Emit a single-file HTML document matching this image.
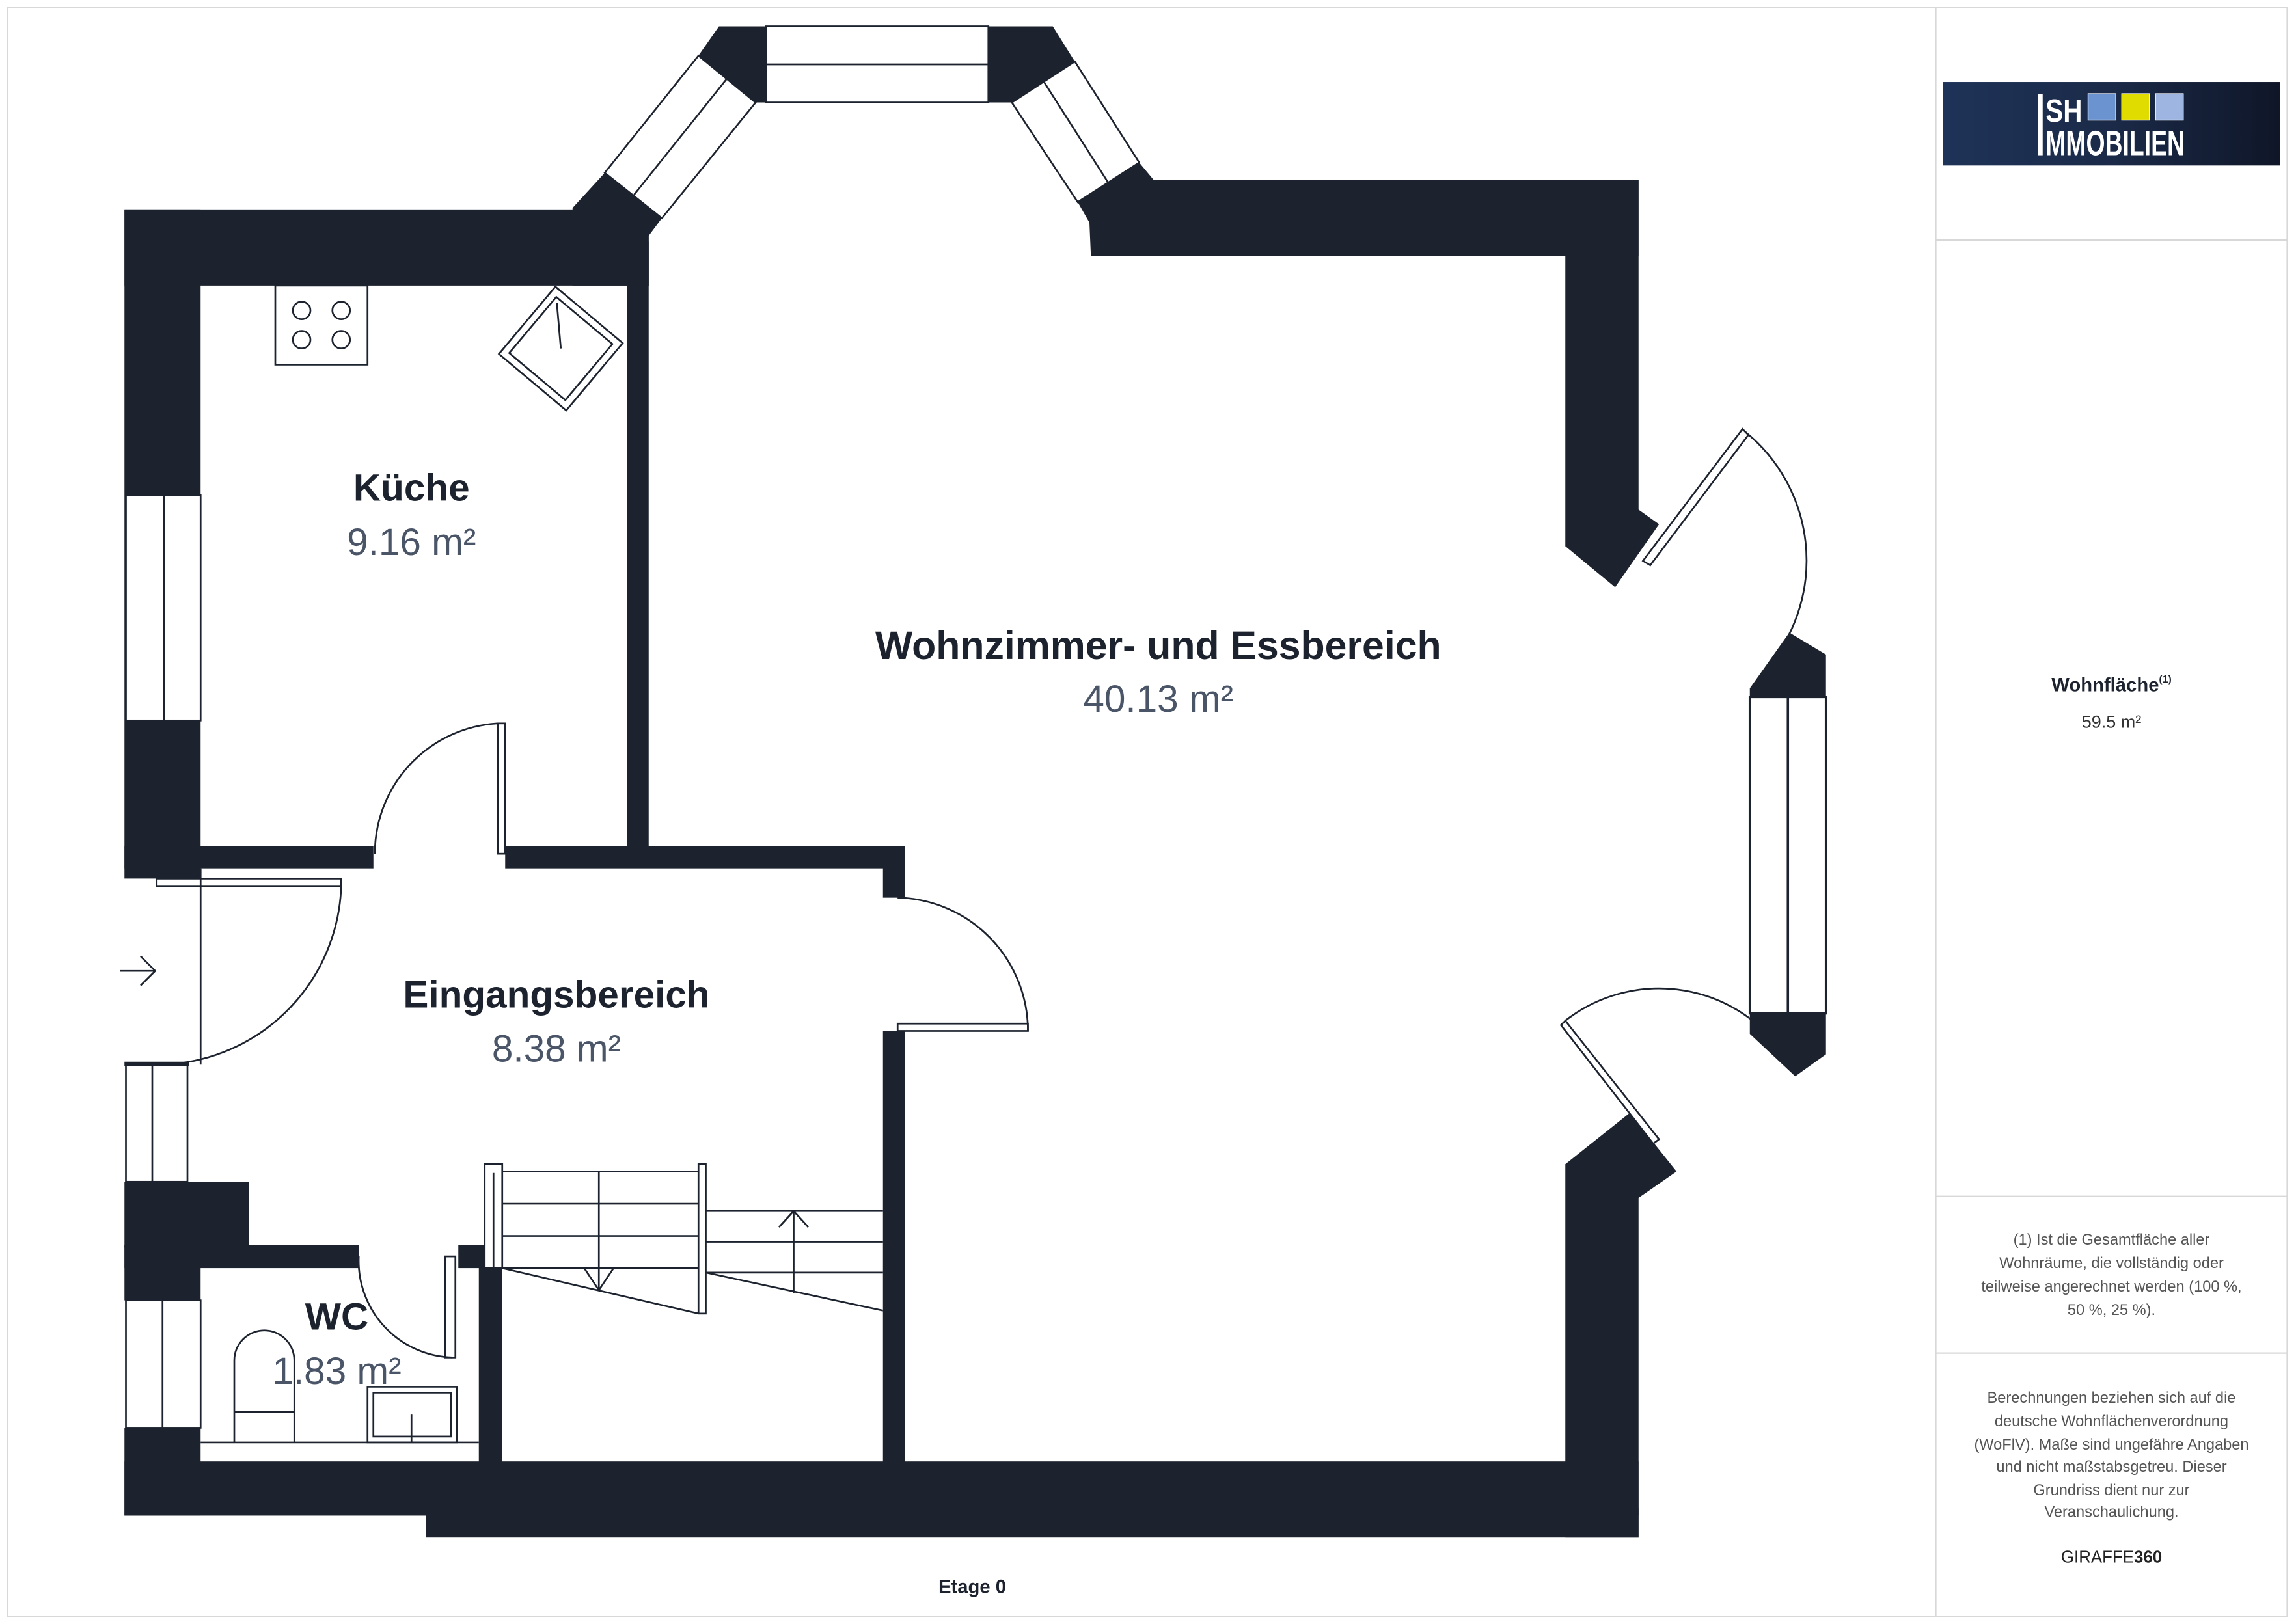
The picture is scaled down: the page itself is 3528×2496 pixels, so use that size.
<!DOCTYPE html>
<html><head><meta charset="utf-8"><style>
html,body{margin:0;padding:0;background:#fff}
svg{display:block}
text{font-family:"Liberation Sans",sans-serif}
</style></head><body>
<svg width="3528" height="2496" viewBox="0 0 1568 1109" preserveAspectRatio="none" xmlns="http://www.w3.org/2000/svg">
<defs><linearGradient id="lg" x1="0" x2="1" y1="0" y2="0"><stop offset="0" stop-color="#1e3358"/><stop offset="0.5" stop-color="#1b2a48"/><stop offset="1" stop-color="#0f1628"/></linearGradient></defs>
<rect x="5" y="5" width="1557" height="1099" fill="none" stroke="#d8d8d8" stroke-width="1"/>
<line x1="1322" y1="5" x2="1322" y2="1104" stroke="#d8d8d8"/>
<line x1="1322" y1="164" x2="1562" y2="164" stroke="#d8d8d8"/>
<line x1="1322" y1="817" x2="1562" y2="817" stroke="#d8d8d8"/>
<line x1="1322" y1="924" x2="1562" y2="924" stroke="#d8d8d8"/>

<g fill="#1c232e">
<polygon points="491,18 523,18 523,70 516,70 477,38"/>
<polygon points="675,18 719,18 734,42 691,70 675,70"/>
<polygon points="413,118 452,149 443,161 443,195 391,195 391,142"/>
<polygon points="778,111 788,123 788,175 745,175 744,152 736,138"/>
<rect x="85" y="143" width="358" height="52"/>
<rect x="85" y="143" width="52" height="457"/>
<rect x="428" y="165" width="15" height="413"/>
<rect x="745" y="123" width="374" height="52"/>
<polygon points="1069,123 1119,123 1119,348 1133,358 1103,401 1069,373"/>
<polygon points="1069,795 1113,760 1145,800 1119,818 1119,1050 1069,1050"/>
<polygon points="1195,470 1222,432 1247,447 1247,476 1195,476"/>
<polygon points="1195,692 1247,692 1247,720 1226,735 1195,706"/>
<rect x="85" y="578" width="170" height="15"/>
<rect x="345" y="578" width="273" height="15"/>
<rect x="603" y="578" width="15" height="35"/>
<rect x="603" y="704" width="15" height="300"/>
<rect x="85" y="807" width="85" height="45"/>
<rect x="85" y="850" width="160" height="16"/>
<rect x="85" y="850" width="52" height="38"/>
<rect x="313" y="850" width="30" height="16"/>
<rect x="327" y="850" width="16" height="152"/>
<rect x="85" y="975" width="52" height="60"/>
<rect x="85" y="998" width="1034" height="37"/>
<rect x="291" y="1030" width="828" height="20"/>
</g>

<g fill="#fff" stroke="#1c232e" stroke-width="1.2">
<rect x="86" y="338" width="51" height="154"/>
<line x1="112" y1="338" x2="112" y2="492"/>
<rect x="523" y="18" width="152" height="52"/>
<line x1="523" y1="44" x2="675" y2="44"/>
<polygon points="477,38 516,70 452,149 413,118"/>
<line x1="497" y1="53" x2="433" y2="133"/>
<polygon points="734,42 778,111 736,138 691,70"/>
<line x1="713" y1="56" x2="757" y2="125"/>
<rect x="1195" y="476" width="52" height="216" stroke-width="1.6"/>
<line x1="1221" y1="476" x2="1221" y2="692" stroke-width="1.6"/>
<rect x="86" y="727" width="42" height="80"/>
<line x1="104" y1="727" x2="104" y2="807"/>
<rect x="86" y="888" width="51" height="87"/>
<line x1="111" y1="888" x2="111" y2="975"/>
</g>
<rect x="85" y="725" width="44" height="3" fill="#1c232e"/>

<g fill="none" stroke="#1c232e" stroke-width="1.2">
<rect x="340" y="494" width="5" height="89" fill="#fff"/>
<path d="M340,494 A89,89 0 0 0 256,583"/>
<rect x="613" y="699" width="89" height="5" fill="#fff"/>
<path d="M613,613 A91,91 0 0 1 702,704"/>
<rect x="107" y="600" width="126" height="5" fill="#fff"/>
<line x1="137" y1="593" x2="137" y2="727"/>
<path d="M233,605 A126,126 0 0 1 107,727"/>
<rect x="304" y="858" width="7" height="69" fill="#fff"/>
<path d="M245,858 A66,66 0 0 0 309,927"/>
<polygon points="1122,383 1190,293 1194,297 1127,386" fill="#fff"/>
<path d="M1192,295 A113,113 0 0 1 1210,452"/>
<polygon points="1069,697 1133,778 1129,781 1066,700" fill="#fff"/>
<path d="M1069,697 A104,104 0 0 1 1220,722"/>
<rect x="188" y="195" width="63" height="54"/>
<circle cx="206" cy="212" r="6"/><circle cx="233" cy="212" r="6"/>
<circle cx="206" cy="232" r="6"/><circle cx="233" cy="232" r="6"/>
<g transform="translate(383,238) rotate(40)">
<rect x="-30" y="-30" width="60" height="60"/><rect x="-25" y="-25" width="50" height="50"/>
<line x1="0" y1="0" x2="-22" y2="-22"/></g>
<path d="M160,985 L160,929 A20.5,20.5 0 0 1 201,929 L201,985"/>
<line x1="160" y1="964" x2="201" y2="964"/>
<rect x="251" y="947" width="61" height="38"/>
<rect x="255" y="951" width="53" height="30"/>
<line x1="281" y1="966" x2="281" y2="985"/>
<line x1="137" y1="985" x2="327" y2="985"/>
<rect x="331" y="795" width="12" height="71" fill="#fff"/>
<line x1="337" y1="801" x2="337" y2="866"/>
<line x1="343" y1="800" x2="477" y2="800"/>
<line x1="343" y1="822" x2="477" y2="822"/>
<line x1="343" y1="844" x2="477" y2="844"/>
<line x1="343" y1="866" x2="477" y2="866"/>
<line x1="409" y1="800" x2="409" y2="881"/>
<line x1="343" y1="866" x2="477" y2="897"/>
<polyline points="399,866 409,881 419,866"/>
<rect x="477" y="795" width="5" height="102" fill="#fff"/>
<line x1="482" y1="827" x2="603" y2="827"/>
<line x1="482" y1="848" x2="603" y2="848"/>
<line x1="482" y1="869" x2="603" y2="869"/>
<line x1="482" y1="869" x2="603" y2="895"/>
<line x1="542" y1="827" x2="542" y2="883"/>
<polyline points="532,838 542,827 552,838"/>
<line x1="82" y1="663" x2="106" y2="663"/>
<polyline points="96,653 106,663 96,673"/>
</g>

<g text-anchor="middle" fill="#1c232e">
<text x="281" y="342" font-size="26" font-weight="bold">Küche</text>
<text x="281" y="379" font-size="26" fill="#4a5568">9.16 m²</text>
<text x="791" y="450" font-size="27" font-weight="bold">Wohnzimmer- und Essbereich</text>
<text x="791" y="486" font-size="26" fill="#4a5568">40.13 m²</text>
<text x="380" y="688" font-size="26" font-weight="bold">Eingangsbereich</text>
<text x="380" y="725" font-size="26" fill="#4a5568">8.38 m²</text>
<text x="230" y="908" font-size="26" font-weight="bold">WC</text>
<text x="230" y="945" font-size="26" fill="#4a5568">1.83 m²</text>
<text x="664" y="1088" font-size="13" font-weight="bold">Etage 0</text>
<text x="1442" y="472" font-size="13" font-weight="bold">Wohnfläche<tspan font-size="7" dy="-6">(1)</tspan></text>
<text x="1442" y="497" font-size="12" fill="#333">59.5 m²</text>
<g font-size="10.5" fill="#555">
<text x="1442" y="850">(1) Ist die Gesamtfläche aller</text>
<text x="1442" y="866">Wohnräume, die vollständig oder</text>
<text x="1442" y="882">teilweise angerechnet werden (100 %,</text>
<text x="1442" y="898">50 %, 25 %).</text>
<text x="1442" y="958">Berechnungen beziehen sich auf die</text>
<text x="1442" y="974">deutsche Wohnflächenverordnung</text>
<text x="1442" y="990">(WoFlV). Maße sind ungefähre Angaben</text>
<text x="1442" y="1005">und nicht maßstabsgetreu. Dieser</text>
<text x="1442" y="1021">Grundriss dient nur zur</text>
<text x="1442" y="1036">Veranschaulichung.</text>
</g>
<text x="1442" y="1067" font-size="11.5" fill="#222">GIRAFFE<tspan font-weight="bold">360</tspan></text>
</g>

<rect x="1327" y="56" width="230" height="57" fill="url(#lg)"/>
<rect x="1392" y="64" width="3" height="42" fill="#fff"/>
<text x="1397" y="83" font-size="22" font-weight="bold" fill="#fff" textLength="25" lengthAdjust="spacingAndGlyphs">SH</text>
<text x="1397" y="106" font-size="24" font-weight="bold" fill="#fff" textLength="95" lengthAdjust="spacingAndGlyphs">MMOBILIEN</text>
<rect x="1426" y="64" width="19" height="18" fill="#6a93cf" stroke="#fff" stroke-width="0.6"/>
<rect x="1449" y="64" width="19" height="18" fill="#e0dc00" stroke="#fff" stroke-width="0.6"/>
<rect x="1472" y="64" width="19" height="18" fill="#9db5e0" stroke="#fff" stroke-width="0.6"/>
</svg>
</body></html>
